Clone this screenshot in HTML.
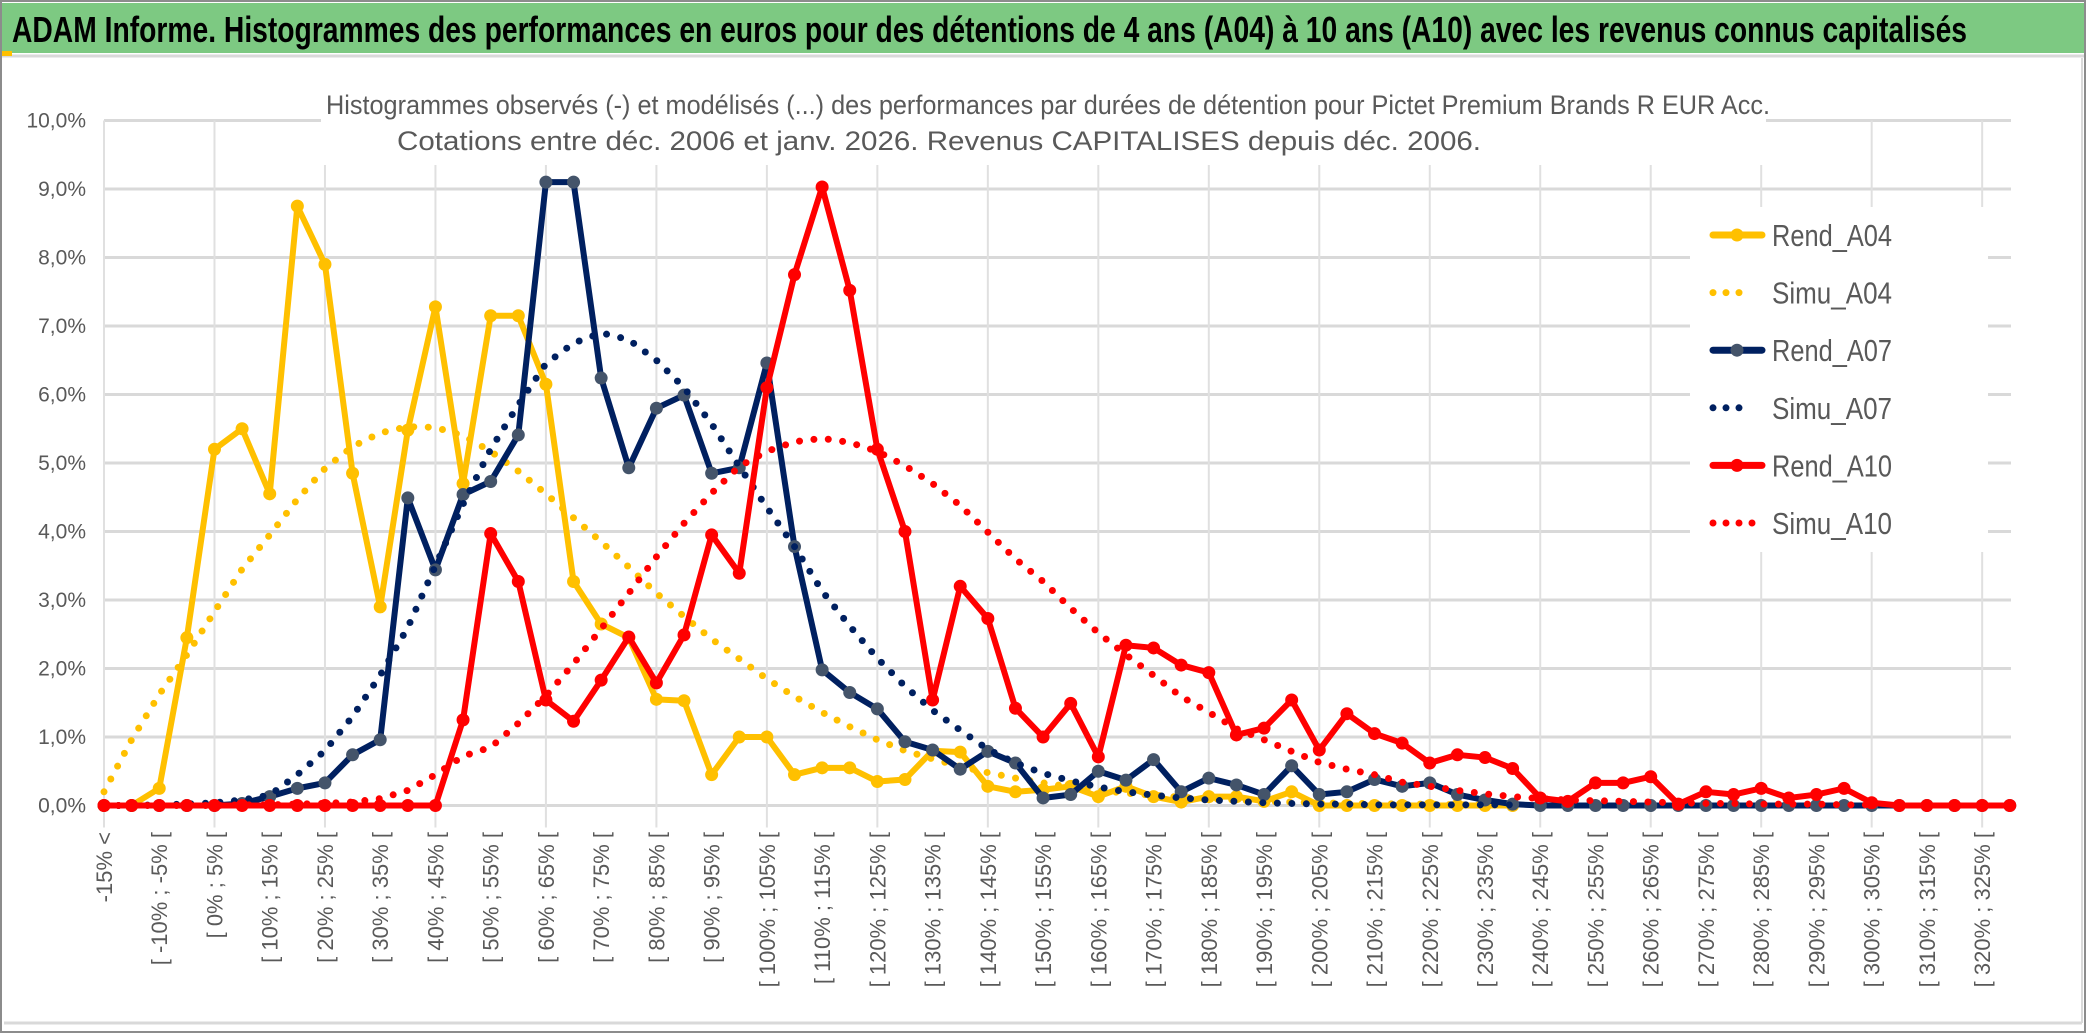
<!DOCTYPE html>
<html><head><meta charset="utf-8"><style>
html,body{margin:0;padding:0;background:#fff;}
svg{display:block;}
</style></head><body>
<svg id="chart" width="2086" height="1033" viewBox="0 0 2086 1033" xmlns="http://www.w3.org/2000/svg" font-family="'Liberation Sans', sans-serif">
  <rect x="0" y="0" width="2086" height="1033" fill="#fff"/>
  <rect x="1" y="1" width="2084" height="1031" fill="none" stroke="#8c8c8c" stroke-width="2"/>
  <rect x="2" y="3" width="2082" height="50" fill="#7dc982"/>
  <line x1="2" y1="56" x2="2084" y2="56" stroke="#d9d9d9" stroke-width="3"/>
  <rect x="2" y="51" width="10" height="5" fill="#ffc000"/>
  <text x="12" y="42" font-size="36" font-weight="bold" fill="#000" textLength="1955" lengthAdjust="spacingAndGlyphs">ADAM Informe. Histogrammes des performances en euros pour des détentions de 4 ans (A04) à 10 ans (A10) avec les revenus connus capitalisés</text>
  <line x1="4" y1="1023" x2="2082" y2="1023" stroke="#d9d9d9" stroke-width="3"/>
  <line x1="2082" y1="58" x2="2082" y2="1023" stroke="#d9d9d9" stroke-width="2"/>
  <g id="grid"></g>
  <g id="series"></g>
  <rect x="321" y="80" width="1445" height="85" fill="#fff"/>
  <text x="326" y="114" font-size="27" fill="#595959" textLength="1444" lengthAdjust="spacingAndGlyphs">Histogrammes observés (-) et modélisés (...) des performances par durées de détention pour Pictet Premium Brands R EUR Acc.</text>
  <text x="397" y="150" font-size="27" fill="#595959" textLength="1084" lengthAdjust="spacingAndGlyphs">Cotations entre déc. 2006 et janv. 2026. Revenus CAPITALISES depuis déc. 2006.</text>
  <g id="yaxis"></g>
  <g id="xaxis"></g>
  <g id="legend">
    <rect x="1690" y="207" width="298" height="345" fill="#fff"/>
  </g>
</svg>
<script>
const categoriesCount = 70;
const rendA04 = [0,0,0.25,2.45,5.2,5.5,4.55,8.75,7.9,4.85,2.9,5.48,7.28,4.7,7.15,7.15,6.15,3.27,2.65,2.45,1.55,1.53,0.45,1.0,1.0,0.45,0.55,0.55,0.35,0.38,0.8,0.78,0.28,0.2,0.23,0.28,0.13,0.28,0.13,0.05,0.13,0.13,0.06,0.2,0,0,0,0,0,0,0,0];
const simuA04 = [0.2,0.96,1.62,2.2,2.83,3.45,3.95,4.47,4.92,5.24,5.44,5.53,5.52,5.4,5.17,4.88,4.55,4.2,3.85,3.48,3.1,2.76,2.43,2.14,1.85,1.59,1.36,1.15,0.96,0.8,0.68,0.57,0.48,0.4,0.33,0.27,0.22,0.18,0.15,0.12,0.1,0.08,0.06,0.05,0.04,0.03,0.03,0.02,0.02,0.01,0.01,0.01];
const rendA07 = [0,0,0,0,0,0.03,0.13,0.25,0.33,0.74,0.96,4.49,3.44,4.54,4.73,5.41,9.1,9.1,6.24,4.93,5.8,5.99,4.85,4.93,6.46,3.78,1.98,1.65,1.41,0.93,0.81,0.53,0.79,0.62,0.11,0.16,0.5,0.37,0.67,0.2,0.4,0.3,0.16,0.58,0.16,0.2,0.38,0.28,0.33,0.16,0.08,0.02,0,0,0,0,0,0,0,0,0,0,0,0,0,0,0,0,0,0];
const simuA07 = [0,0,0.01,0.02,0.04,0.08,0.15,0.45,0.8,1.3,1.9,2.6,3.5,4.4,5.2,5.85,6.45,6.75,6.9,6.8,6.5,6.1,5.57,4.95,4.35,3.78,3.13,2.62,2.15,1.74,1.39,1.1,0.82,0.62,0.47,0.36,0.27,0.2,0.15,0.11,0.08,0.06,0.04,0.03,0.02,0.02,0.01,0.01,0.01,0.01,0.01,0.01];
const rendA10 = [0,0,0,0,0,0,0,0,0,0,0,0,0,1.25,3.97,3.27,1.54,1.23,1.83,2.46,1.79,2.49,3.95,3.39,6.1,7.75,9.03,7.52,5.2,4.0,1.54,3.2,2.73,1.42,1.0,1.49,0.71,2.34,2.3,2.05,1.94,1.03,1.13,1.54,0.81,1.34,1.05,0.91,0.62,0.74,0.7,0.54,0.11,0.06,0.33,0.33,0.42,0.02,0.2,0.16,0.25,0.11,0.16,0.25,0.04,0,0,0,0,0];
const simuA10 = [0,0,0,0,0,0.01,0.01,0.02,0.03,0.05,0.1,0.22,0.45,0.72,0.85,1.2,1.6,2.07,2.58,3.1,3.63,4.12,4.56,4.95,5.17,5.31,5.36,5.3,5.17,4.96,4.7,4.38,3.99,3.6,3.27,2.88,2.52,2.2,1.9,1.59,1.36,1.12,0.96,0.79,0.63,0.53,0.45,0.34,0.28,0.22,0.17,0.13,0.1,0.08,0.07,0.06,0.05,0.04,0.03,0.03,0.02,0.02,0.02,0.01,0.01];
const yTicks = [0,1,2,3,4,5,6,7,8,9,10];
const yTickLabels = ["0,0%","1,0%","2,0%","3,0%","4,0%","5,0%","6,0%","7,0%","8,0%","9,0%","10,0%"];
const legendLabels = ["Rend_A04","Simu_A04","Rend_A07","Simu_A07","Rend_A10","Simu_A10"];

const NS = "http://www.w3.org/2000/svg";
const X0 = 104, STEP = 27.62, Y0 = 805.5, YPER = 68.5;
function xPos(i){ return X0 + i*STEP; }
function yPos(v){ return Y0 - v*YPER; }
function catLabel(i){
  if(i===0) return "-15% <";
  const lo = -15 + (i-1)*5;
  return "[ " + lo + "% ; " + (lo+5) + "% [";
}
function mk(tag, attrs, parent){
  const e = document.createElementNS(NS, tag);
  for(const k in attrs) e.setAttribute(k, attrs[k]);
  parent.appendChild(e);
  return e;
}
const grid = document.getElementById('grid');
yTicks.forEach(function(t){
  const l = mk('line',{x1:X0,x2:2011,y1:yPos(t),y2:yPos(t),stroke:'#d9d9d9','stroke-width':3},grid);
  
  
});
for(let i=0;i<categoriesCount;i+=4){
  const l = mk('line',{x1:xPos(i),x2:xPos(i),y1:yPos(10),y2:yPos(0)+22,stroke:'#e0e0e0','stroke-width':2},grid);
  
  
}
const yaxis = document.getElementById('yaxis');
yTicks.forEach(function(t,k){
  const tx = mk('text',{x:86,y:yPos(t)+7,'text-anchor':'end','font-size':21,fill:'#595959'},yaxis);
  tx.textContent = yTickLabels[k];
  
  
});
const xaxis = document.getElementById('xaxis');
for(let i=0;i<categoriesCount;i+=2){
  const x = xPos(i)+8, y = 832;
  const tx = mk('text',{x:x,y:y,'text-anchor':'end','font-size':22,fill:'#595959',transform:'rotate(-90 '+x+' '+y+')'},xaxis);
  tx.textContent = catLabel(i);
  
  
}
const series = document.getElementById('series');
function pts(arr){ return arr.map(function(v,i){ return xPos(i)+','+yPos(v); }).join(' '); }
function solid(arr, color, markerColor, name){
  const g = mk('g',{},series);
  
  
  const p = mk('polyline',{points:pts(arr),fill:'none',stroke:color,'stroke-width':6,'stroke-linejoin':'round','stroke-linecap':'round'},g);
  
  
  arr.forEach(function(v,i){
    const c = mk('circle',{cx:xPos(i),cy:yPos(v),r:6.5,fill:markerColor},g);
    
    
  });
}
function dotted(arr, color, name){
  const p = mk('polyline',{points:pts(arr),fill:'none',stroke:color,'stroke-width':7,'stroke-linecap':'round','stroke-dasharray':'0 14.5'},series);
  
  
}
solid(rendA04,'#ffc000','#ffc000','rend-a04-series');
dotted(simuA04,'#ffc000','simu-a04-series');
solid(rendA07,'#002060','#44546a','rend-a07-series');
dotted(simuA07,'#002060','simu-a07-series');
solid(rendA10,'#ff0000','#ff0000','rend-a10-series');
dotted(simuA10,'#ff0000','simu-a10-series');

const legend = document.getElementById('legend');
const legColors = ['#ffc000','#ffc000','#002060','#002060','#ff0000','#ff0000'];
const legMarkers = ['#ffc000',null,'#44546a',null,'#ff0000',null];
legendLabels.forEach(function(lab,k){
  const y = 235 + k*57.6;
  const g = mk('g',{},legend);
  
  
  if(k%2===0){
    const l = mk('line',{x1:1713,x2:1762,y1:y,y2:y,stroke:legColors[k],'stroke-width':7,'stroke-linecap':'round'},g);
    
    
    const c = mk('circle',{cx:1737,cy:y,r:6.5,fill:legMarkers[k]},g);
    
    
  } else {
    const l = mk('line',{x1:1713,x2:k===5?1762:1752,y1:y,y2:y,stroke:legColors[k],'stroke-width':7,'stroke-linecap':'round','stroke-dasharray':'0 13'},g);
    
    
  }
  const t = mk('text',{x:1772,y:y+11,'font-size':31,fill:'#595959',textLength:120,lengthAdjust:'spacingAndGlyphs'},g);
  t.textContent = lab;
  
  
});
</script>
</body></html>
